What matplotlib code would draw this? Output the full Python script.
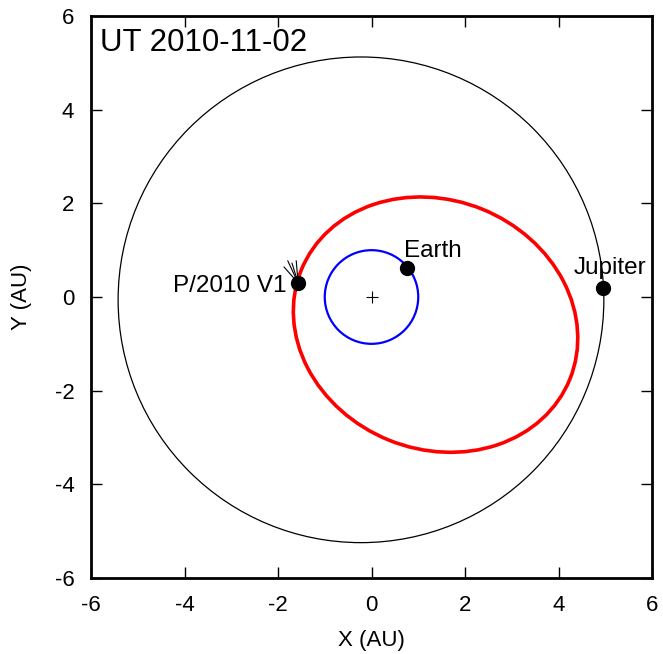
import matplotlib
matplotlib.use("Agg")
import matplotlib.pyplot as plt
from matplotlib.patches import Ellipse

plt.rcParams['font.family'] = ['Liberation Sans', 'DejaVu Sans']

# Orbits: center x, center y, full width, full height, tilt (deg)
orbit_names = ["Earth", "Jupiter", "P/2010 V1"]
orbit_cx = [0.0, -0.225, 1.37]
orbit_cy = [0.0, -0.06, -0.59]
orbit_w = [2.0, 10.39, 6.2]
orbit_h = [2.0, 10.37, 5.32]
orbit_angle = [0.0, 0.0, -22.0]
orbit_colors = ["#0000ff", "black", "#ff0000"]
orbit_lw = [1.6, 0.9, 2.6]

# Body positions (AU)
body_names = ["Earth", "Jupiter", "P/2010 V1"]
body_x = [0.76, 4.95, -1.57]
body_y = [0.62, 0.19, 0.30]

# Label positions
label_x = [0.70, 5.10, -1.81]
label_y = [0.98, 0.62, 0.24]

# Comet tail end points
tail_x = [-1.87, -1.79, -1.70, -1.61]
tail_y = [0.64, 0.77, 0.72, 0.77]

ticks = [-6, -4, -2, 0, 2, 4, 6]
date_text = "UT 2010-11-02"

fig = plt.figure(figsize=(6.63, 6.54), dpi=100)
ax = fig.add_axes([91/663, 1-578/654, 561/663, 562/654])

for cx, cy, w, h, ang, c, lw in zip(orbit_cx, orbit_cy, orbit_w, orbit_h,
                                     orbit_angle, orbit_colors, orbit_lw):
    ax.add_patch(Ellipse((cx, cy), w, h, angle=ang, fill=False,
                         edgecolor=c, lw=lw, zorder=2))

# comet tail
for tx, ty in zip(tail_x, tail_y):
    ax.plot([body_x[2], tx], [body_y[2], ty], color="black", lw=0.8, zorder=3)

# Sun
ax.plot([0], [0], marker="+", color="black", markersize=8, mew=0.8, zorder=3)

ax.plot(body_x, body_y, "o", color="black", markersize=10, zorder=4, ls="none")

ax.text(label_x[0], label_y[0], body_names[0], fontsize=17.5, ha="left", va="center")
ax.text(label_x[1], label_y[1], body_names[1], fontsize=17.5, ha="center", va="center")
ax.text(label_x[2], label_y[2], body_names[2], fontsize=17.5, ha="right", va="center")

ax.text(0.016, 0.978, date_text, transform=ax.transAxes, fontsize=22.5,
        ha="left", va="top")

ax.set_xlim(-6, 6)
ax.set_ylim(-6, 6)
ax.set_xticks(ticks)
ax.set_yticks(ticks)
ax.set_xticklabels([str(t) for t in ticks])
ax.set_yticklabels([str(t) for t in ticks])
ax.tick_params(direction="in", top=True, right=True, length=8, width=1,
               labelsize=16, pad=12)
for s in ax.spines.values():
    s.set_linewidth(2)
ax.set_xlabel("X (AU)", fontsize=16, labelpad=10)
ax.set_ylabel("Y (AU)", fontsize=16, labelpad=16)

fig.savefig("out.png", dpi=100)
